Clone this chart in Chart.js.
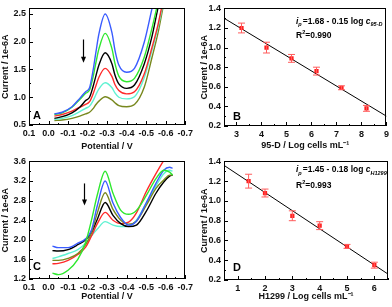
<!DOCTYPE html>
<html>
<head>
<meta charset="utf-8">
<script src="https://cdn.jsdelivr.net/npm/chart.js@4"></script>
<style>
  body { margin:0; background:#fff; }
  #wrap { position:relative; width:392px; height:307px; background:#fff; }
  canvas { position:absolute; }
</style>
</head>
<body>
<div id="wrap">
  <canvas id="cA" width="196" height="153" style="left:0;top:0"></canvas>
  <canvas id="cB" width="196" height="153" style="left:196px;top:0"></canvas>
  <canvas id="cC" width="196" height="154" style="left:0;top:153px"></canvas>
  <canvas id="cD" width="196" height="154" style="left:196px;top:153px"></canvas>
</div>
<script>
// panel A: DPV curves (95-D)
const potA   = [-0.03,-0.07,-0.12,-0.16,-0.19,-0.21,-0.227,-0.243,-0.258,-0.29,-0.325,-0.34,-0.36,-0.4,-0.44,-0.49,-0.53,-0.56,-0.6,-0.63];
const azulA  = [0.70,0.73,0.83,0.98,1.10,1.17,1.46,1.82,2.14,2.50,2.16,1.85,1.58,1.45,1.52,1.99,2.60,3.05,3.60,4.00];
const verdeA = [0.69,0.72,0.82,0.96,1.07,1.13,1.35,1.63,1.87,2.15,1.87,1.61,1.38,1.28,1.34,1.72,2.25,2.70,3.30,3.70];
const negroA = [0.62,0.65,0.72,0.82,0.94,1.00,1.18,1.39,1.58,1.80,1.60,1.40,1.24,1.16,1.22,1.60,2.10,2.60,3.20,3.60];
const rojoA  = [0.66,0.69,0.75,0.82,0.87,0.92,1.05,1.21,1.36,1.52,1.37,1.23,1.12,1.06,1.10,1.42,1.90,2.30,2.95,3.30];
const cianA  = [0.60,0.62,0.67,0.74,0.80,0.84,0.93,1.05,1.15,1.26,1.17,1.08,1.00,0.97,1.01,1.35,1.85,2.25,2.90,3.30];
const olivaA = [0.58,0.59,0.62,0.66,0.70,0.73,0.79,0.87,0.93,1.01,0.95,0.90,0.85,0.83,0.87,1.18,1.72,2.15,2.85,3.20];

// panel C: DPV curves (H1299)
const potC   = [-0.02,-0.05,-0.1,-0.15,-0.19,-0.22,-0.25,-0.29,-0.33,-0.37,-0.41,-0.45,-0.5,-0.55,-0.59,-0.62,-0.635];
const verdeC = [1.32,1.29,1.38,1.60,1.95,2.40,2.92,3.40,2.95,2.60,2.52,2.60,2.90,3.25,3.42,3.38,3.32];
const azulC  = [1.87,1.84,1.84,1.93,2.02,2.20,2.70,3.20,2.75,2.45,2.30,2.38,2.75,3.15,3.42,3.48,3.46];
const olivaC = [1.58,1.58,1.62,1.72,1.90,2.15,2.55,2.96,2.62,2.40,2.32,2.38,2.70,3.05,3.22,3.32,3.32];
const negroC = [1.78,1.77,1.80,1.90,2.00,2.15,2.42,2.76,2.50,2.33,2.27,2.30,2.58,2.95,3.18,3.30,3.32];
const rojoC  = [1.51,1.52,1.58,1.70,1.85,2.08,2.33,2.56,2.40,2.33,2.36,2.55,2.98,3.35,3.62,3.80,3.88];
const cianC  = [1.62,1.65,1.72,1.80,1.93,2.08,2.22,2.37,2.30,2.27,2.28,2.40,2.75,3.10,3.35,3.42,3.40];

// panel B: calibration 95-D
const logB  = [3.2,4.2,5.2,6.2,7.2,8.2];
const corrB = [1.20,1.00,0.89,0.76,0.59,0.38];
const errB  = [0.05,0.055,0.04,0.04,0.02,0.03];
const ajusteXB = [2.5,9];
const ajusteYB = [1.30,0.30];

// panel D: calibration H1299
const logD  = [1.4,2,3,4,5,6];
const corrD = [1.20,1.08,0.85,0.75,0.54,0.35];
const errD  = [0.07,0.04,0.05,0.04,0.02,0.03];
const ajusteXD = [0.5,6.5];
const ajusteYD = [1.36,0.26];

// ticks
const ticksPot = [0.1,0.0,-0.1,-0.2,-0.3,-0.4,-0.5,-0.6,-0.7];
const ticksYA = [0.5,1.0,1.5,2.0,2.5];
const ticksYC = [1.2,1.6,2.0,2.4,2.8,3.2,3.6];
const ticksXB = [3,4,5,6,7,8,9];
const ticksXD = [1,2,3,4,5,6];
const ticksCorr = [0.2,0.4,0.6,0.8,1.0,1.2,1.4];

const fuente = "'Liberation Sans', Arial, sans-serif";
const col = { azul:'#3a5cff', verde:'#2ee82e', negro:'#000000', rojo:'#ff2b2b', cian:'#5ff2d2', oliva:'#78881e' };

function curva(xs, ys, color) {
  return {
    data: xs.map((x,i) => ({x:x, y:ys[i]})),
    borderColor: color, borderWidth: 1.4, pointRadius: 0,
    cubicInterpolationMode: 'monotone', fill: false, clip: 0
  };
}

function escalas(o) {
  return {
    x: {
      type:'linear', min:o.xmin, max:o.xmax, reverse:!!o.xrev,
      afterBuildTicks: s => { s.ticks = o.xt.map(v => ({value:v})); },
      afterFit: s => { s.height = o.xh; },
      grid:{ display:false, drawTicks:false }, border:{ display:false },
      ticks:{ font:{ family:fuente, size:9, weight:'bold' }, color:'#111', padding:3, maxRotation:0, autoSkip:false,
              callback: v => o.xdec ? Number(v).toFixed(1) : String(v) },
      title:{ display:true, text:o.xtit, color:'#111', font:{ family:fuente, size:9, weight:'bold' }, padding:{ top:0, bottom:o.xtp } }
    },
    y: {
      type:'linear', min:o.ymin, max:o.ymax,
      afterBuildTicks: s => { s.ticks = o.yt.map(v => ({value:v})); },
      afterFit: s => { s.width = o.yw; },
      grid:{ display:false, drawTicks:false }, border:{ display:false },
      ticks:{ font:{ family:fuente, size:9, weight:'bold' }, color:'#111', padding:3,
              callback: v => Number(v).toFixed(1) },
      title:{ display:true, text:'Current / 1e-6A', color:'#111', font:{ family:fuente, size:9, weight:'bold' }, padding:{ top:o.ytp, bottom:0 } }
    }
  };
}

// frame and inward ticks
const marco = {
  id:'marco',
  afterDraw(chart) {
    const { ctx, chartArea:a, scales:{ x, y } } = chart;
    ctx.save();
    ctx.strokeStyle = '#000';
    ctx.lineWidth = 1;
    ctx.strokeRect(Math.round(a.left)+0.5, Math.round(a.top)+0.5, Math.round(a.right-a.left)-1, Math.round(a.bottom-a.top)-1);
    ctx.beginPath();
    const marcas = (s, fn) => {
      const vals = s.ticks.map(t => t.value);
      const paso = vals[1] - vals[0];
      const lo = Math.min(s.min, s.max), hi = Math.max(s.min, s.max);
      vals.forEach(v => fn(s.getPixelForValue(v), 4));
      for (let k = -1; k < vals.length; k++) {
        const m = vals[0] + (k + 0.5) * paso;
        if (m >= lo && m <= hi) fn(s.getPixelForValue(m), 2);
      }
    };
    marcas(x, (p, l) => { p = Math.round(p)+0.5; ctx.moveTo(p, a.bottom); ctx.lineTo(p, a.bottom - l); });
    marcas(y, (p, l) => { p = Math.round(p)+0.5; ctx.moveTo(a.left, p); ctx.lineTo(a.left + l, p); });
    ctx.stroke();
    ctx.restore();
  }
};

// error bars
const barras = {
  id:'barras',
  afterDatasetsDraw(chart, args, o) {
    if (!o || !o.err) return;
    const { ctx, scales:{ x, y } } = chart;
    const pts = chart.data.datasets[0].data;
    ctx.save();
    ctx.strokeStyle = '#ff5c5c';
    ctx.lineWidth = 1;
    pts.forEach((p, i) => {
      const e = o.err[i];
      const px = x.getPixelForValue(p.x);
      const y1 = y.getPixelForValue(p.y + e), y2 = y.getPixelForValue(p.y - e);
      ctx.beginPath();
      ctx.moveTo(px, y1); ctx.lineTo(px, y2);
      ctx.moveTo(px-3.5, y1); ctx.lineTo(px+3.5, y1);
      ctx.moveTo(px-3.5, y2); ctx.lineTo(px+3.5, y2);
      ctx.stroke();
    });
    ctx.restore();
  }
};

function trozos(ctx, x, yb, partes) {
  partes.forEach(p => {
    const size = p.sub || p.sup ? 5.5 : 8.5;
    ctx.font = (p.it ? 'italic ' : '') + 'bold ' + size + 'px ' + fuente;
    ctx.fillText(p.t, x, yb + (p.sub ? 2.5 : 0) - (p.sup ? 4 : 0));
    x += ctx.measureText(p.t).width + (p.sub ? 1 : 0);
  });
}

// letters, arrows and equations
const notas = {
  id:'notas',
  afterDraw(chart, args, o) {
    const { ctx, chartArea:a, scales:{ x, y } } = chart;
    ctx.save();
    ctx.fillStyle = '#000';
    ctx.textBaseline = 'alphabetic';
    ctx.textAlign = 'left';
    ctx.font = 'bold 11px ' + fuente;
    ctx.fillText(o.letra, a.left + o.lx, a.bottom - o.ly);
    if (o.flecha) {
      const px = Math.round(x.getPixelForValue(o.flecha[0])) + 0.5;
      const p1 = y.getPixelForValue(o.flecha[1]), p2 = y.getPixelForValue(o.flecha[2]);
      ctx.strokeStyle = '#000';
      ctx.lineWidth = 1.2;
      ctx.beginPath(); ctx.moveTo(px, p1); ctx.lineTo(px, p2 - 4); ctx.stroke();
      ctx.beginPath(); ctx.moveTo(px-2.5, p2-6); ctx.lineTo(px+2.5, p2-6); ctx.lineTo(px, p2); ctx.closePath(); ctx.fill();
    }
    if (o.ecuacion) {
      trozos(ctx, a.left + o.ex, a.top + o.ey1, [
        { t:'i', it:true }, { t:'p', it:true, sub:true }, { t:o.ecuacion },
        { t:'c', it:true }, { t:o.subc, it:true, sub:true }
      ]);
      trozos(ctx, a.left + o.ex, a.top + o.ey2, [ { t:'R' }, { t:'2', sup:true }, { t:o.r2 } ]);
    }
    ctx.restore();
  }
};

function base(padding, sc, datasets, plug) {
  return {
    type:'line',
    data:{ datasets: datasets },
    options:{
      responsive:false, animation:false,
      layout:{ padding: padding },
      scales: sc,
      plugins:{ legend:{ display:false }, tooltip:{ enabled:false }, notas: plug.notas, barras: plug.barras || {} }
    },
    plugins:[marco, barras, notas]
  };
}

new Chart(document.getElementById('cA'), base(
  { top:5, right:7, left:0, bottom:0 },
  escalas({ xmin:-0.7, xmax:0.1, xrev:true, xt:ticksPot, xdec:true, xh:28, xtit:'Potential / V', xtp:1,
            ymin:0.5, ymax:2.6, yt:ticksYA, yw:29, ytp:0 }),
  [curva(potA, azulA, col.azul), curva(potA, verdeA, col.verde), curva(potA, negroA, col.negro),
   curva(potA, rojoA, col.rojo), curva(potA, cianA, col.cian), curva(potA, olivaA, col.oliva)],
  { notas:{ letra:'A', lx:4, ly:6, flecha:[-0.177, 2.04, 1.62] } }
));

new Chart(document.getElementById('cC'), base(
  { top:8, right:7, left:0, bottom:0 },
  escalas({ xmin:-0.7, xmax:0.1, xrev:true, xt:ticksPot, xdec:true, xh:28, xtit:'Potential / V', xtp:5,
            ymin:1.2, ymax:3.6, yt:ticksYC, yw:29, ytp:0 }),
  [curva(potC, verdeC, col.verde), curva(potC, azulC, col.azul), curva(potC, olivaC, col.oliva),
   curva(potC, negroC, col.negro), curva(potC, rojoC, col.rojo), curva(potC, cianC, col.cian)],
  { notas:{ letra:'C', lx:4, ly:9, flecha:[-0.18, 3.15, 2.7] } }
));

function calibra(id, pad, xs, ys, err, fx, fy, o, notas) {
  return new Chart(document.getElementById(id), base(
    pad,
    escalas(o),
    [
      { type:'scatter', data: xs.map((x,i) => ({x:x, y:ys[i]})), pointStyle:'rect', pointRadius:3,
        backgroundColor:'#ff2020', borderColor:'#ff2020', borderWidth:0, showLine:false },
      { data: fx.map((x,i) => ({x:x, y:fy[i]})), borderColor:'#000', borderWidth:1, pointRadius:0, fill:false, clip:0 }
    ],
    { notas: notas, barras:{ err: err } }
  ));
}

calibra('cB', { top:4, right:3, left:0, bottom:0 }, logB, corrB, errB, ajusteXB, ajusteYB,
  { xmin:2.5, xmax:9, xt:ticksXB, xh:27, xtit:'95-D / Log cells mL⁻¹', xtp:2.5,
    ymin:0.2, ymax:1.4, yt:ticksCorr, yw:28, ytp:3 },
  { letra:'B', lx:9, ly:6, ecuacion:'=1.68 - 0.15 log ', subc:'95-D', r2:'=0.990', ex:72, ey1:15.5, ey2:30 });

calibra('cD', { top:8, right:2, left:0, bottom:0 }, logD, corrD, errD, ajusteXD, ajusteYD,
  { xmin:0.5, xmax:6.5, xt:ticksXD, xh:27, xtit:'H1299 / Log cells mL⁻¹', xtp:5,
    ymin:0.2, ymax:1.4, yt:ticksCorr, yw:28, ytp:3 },
  { letra:'D', lx:9, ly:9, ecuacion:'=1.45 - 0.18 log ', subc:'H1299', r2:'=0.993', ex:72, ey1:11, ey2:27 });
</script>
</body>
</html>
